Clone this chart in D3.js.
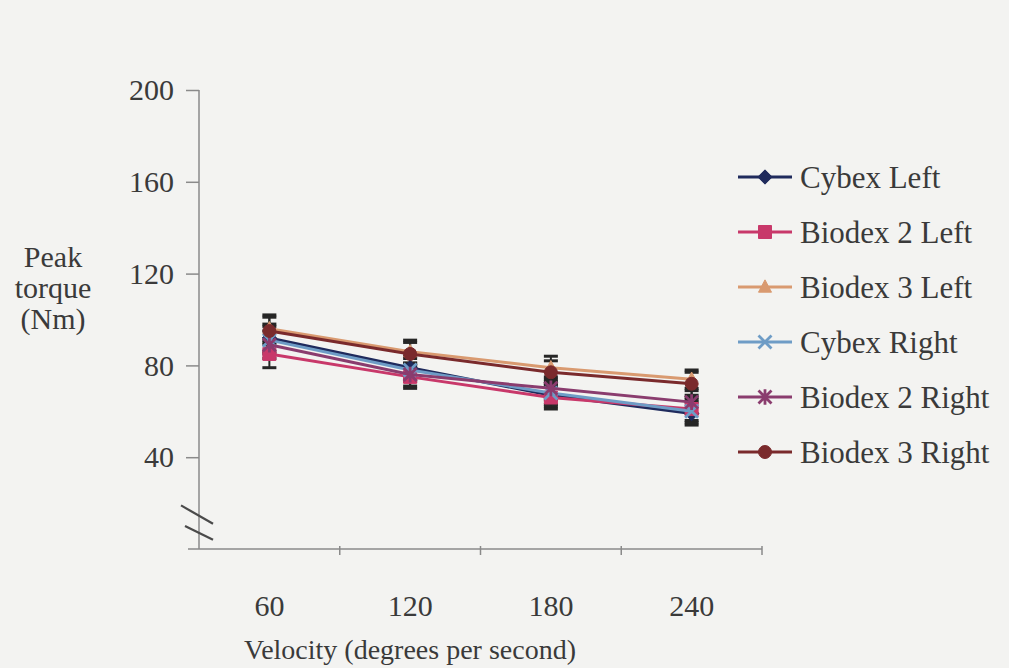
<!DOCTYPE html>
<html>
<head>
<meta charset="utf-8">
<script src="https://cdn.jsdelivr.net/npm/d3@7/dist/d3.min.js"></script>
<style>
  html, body { margin: 0; padding: 0; background: #f3f3f1; }
  svg { display: block; }
  text { font-family: "Liberation Serif", "Times New Roman", serif; fill: #3a3a3a; }
</style>
</head>
<body>
<svg id="chart" width="1009" height="668"></svg>
<script>
// Isokinetic peak torque by test velocity, per dynamometer and side
const velocities = ["60", "120", "180", "240"];
const yTicks = [40, 80, 120, 160, 200];

const seriesNames = ["Cybex Left", "Biodex 2 Left", "Biodex 3 Left",
                     "Cybex Right", "Biodex 2 Right", "Biodex 3 Right"];

const cybexLeft     = [92, 79, 67, 59];
const biodex2Left   = [85, 75, 66, 61];
const biodex3Left   = [96, 86, 79, 74];
const cybexRight    = [91, 78, 68, 60];
const biodex2Right  = [89, 76, 70, 64];
const biodex3Right  = [95, 85, 77, 72];

// standard deviations (error bars)
const cybexLeftSD    = [6, 5, 5, 5];
const biodex2LeftSD  = [6, 5, 5, 5];
const biodex3LeftSD  = [6, 5, 5, 4];
const cybexRightSD   = [6, 5, 5, 5];
const biodex2RightSD = [6, 5, 5, 5];
const biodex3RightSD = [6, 5, 5, 5];

const seriesValues = [cybexLeft, biodex2Left, biodex3Left, cybexRight, biodex2Right, biodex3Right];
const seriesSD = [cybexLeftSD, biodex2LeftSD, biodex3LeftSD, cybexRightSD, biodex2RightSD, biodex3RightSD];

const colors = ["#1f2a5c", "#c8386a", "#d99a70", "#6e9cc6", "#8a3c6e", "#7a2a2c"];
const shapes = ["diamond", "square", "triangle", "cross", "star", "circle"];

const svg = d3.select("#chart");

const axisX = 199, axisRight = 762, axisTop = 90, axisBottom = 549;

const x = d3.scaleBand().domain(velocities).range([axisX, axisRight]);
const y = d3.scaleLinear().domain([0, 200]).range([axisBottom, axisTop]);
const cx = d => x(d) + x.bandwidth() / 2;

const axisColor = "#8a8a8a";

// Y axis
const yAxis = svg.append("g").attr("transform", `translate(${axisX},0)`)
  .call(d3.axisLeft(y).tickValues(yTicks).tickSize(13).tickPadding(12));
yAxis.select(".domain").attr("d", `M0,${y(200)}V${y(0)}`).attr("stroke", axisColor).attr("stroke-width", 1.5);
yAxis.selectAll(".tick line").attr("stroke", axisColor).attr("stroke-width", 1.5);
yAxis.selectAll(".tick text").attr("font-size", 30).attr("fill", "#3a3a3a")
  .attr("font-family", "Liberation Serif, serif");

// X axis (ticks at band boundaries, labels at band centers)
const xAxis = svg.append("g").attr("transform", `translate(0,${axisBottom})`);
xAxis.append("line").attr("x1", axisX - 11).attr("x2", axisRight)
  .attr("stroke", axisColor).attr("stroke-width", 1.5);
xAxis.selectAll("line.tick").data(velocities).join("line").attr("class", "tick")
  .attr("x1", d => x(d) + x.bandwidth()).attr("x2", d => x(d) + x.bandwidth())
  .attr("y1", -3).attr("y2", 6).attr("stroke", axisColor).attr("stroke-width", 1.5);
xAxis.selectAll("text").data(velocities).join("text")
  .attr("x", d => cx(d)).attr("y", 67).attr("text-anchor", "middle")
  .attr("font-size", 30).text(d => d);

// Axis break mark
const brk = svg.append("g").attr("stroke", "#4a4a4a").attr("stroke-width", 2.2);
brk.append("line").attr("x1", axisX - 18).attr("y1", y(19)).attr("x2", axisX + 14).attr("y2", y(11));
brk.append("line").attr("x1", axisX - 14).attr("y1", y(10)).attr("x2", axisX + 14).attr("y2", y(4));

// Axis titles
const yTitle = svg.append("text").attr("text-anchor", "middle").attr("font-size", 30);
["Peak", "torque", "(Nm)"].forEach((t, i) =>
  yTitle.append("tspan").attr("x", 53).attr("y", 267 + i * 31).text(t));
svg.append("text").attr("x", 410).attr("y", 659).attr("text-anchor", "middle")
  .attr("font-size", 28).text("Velocity (degrees per second)");

// Marker path generator
function markerPath(shape, s) {
  const h = s / 2;
  switch (shape) {
    case "diamond": return `M0,${-h * 1.1}L${h * 1.1},0L0,${h * 1.1}L${-h * 1.1},0Z`;
    case "square": return `M${-h},${-h}H${h}V${h}H${-h}Z`;
    case "triangle": return `M0,${-h * 1.1}L${h},${h * 0.8}L${-h},${h * 0.8}Z`;
    case "cross": return `M${-h},${-h}L${h},${h}M${-h},${h}L${h},${-h}`;
    case "star": return `M${-h},${-h}L${h},${h}M${-h},${h}L${h},${-h}M0,${-h * 1.2}V${h * 1.2}`;
    case "circle": return d3.symbol(d3.symbolCircle, s * s * 0.78)();
  }
}
function drawMarker(g, shape, color, s) {
  const open = shape === "cross" || shape === "star";
  g.append("path").attr("d", markerPath(shape, s))
    .attr("fill", open ? "none" : color)
    .attr("stroke", color).attr("stroke-width", open ? 2.8 : 1);
}

const line = d3.line().x(d => cx(d.v)).y(d => y(d.val));
const plot = svg.append("g");

// Error bars
seriesValues.forEach((vals, si) => {
  const g = plot.append("g").attr("stroke", "#262626").attr("stroke-width", 2);
  vals.forEach((val, i) => {
    const v = velocities[i], sd = seriesSD[si][i];
    g.append("line").attr("x1", cx(v)).attr("x2", cx(v)).attr("y1", y(val + sd)).attr("y2", y(val - sd));
    g.append("line").attr("x1", cx(v) - 7).attr("x2", cx(v) + 7).attr("y1", y(val + sd)).attr("y2", y(val + sd)).attr("stroke-width", 3);
    g.append("line").attr("x1", cx(v) - 7).attr("x2", cx(v) + 7).attr("y1", y(val - sd)).attr("y2", y(val - sd)).attr("stroke-width", 3);
  });
});

// Lines and markers
seriesValues.forEach((vals, si) => {
  const pts = vals.map((val, i) => ({ v: velocities[i], val }));
  plot.append("path").datum(pts).attr("d", line).attr("fill", "none")
    .attr("stroke", colors[si]).attr("stroke-width", 3);
  pts.forEach(p => {
    const g = plot.append("g").attr("transform", `translate(${cx(p.v)},${y(p.val)})`);
    drawMarker(g, shapes[si], colors[si], 13);
  });
});

// Legend
const legend = svg.append("g");
seriesNames.forEach((name, i) => {
  const ly = 177 + i * 55;
  const g = legend.append("g").attr("transform", `translate(0,${ly})`);
  g.append("line").attr("x1", 738).attr("x2", 792).attr("stroke", colors[i]).attr("stroke-width", 3);
  const m = g.append("g").attr("transform", "translate(765,0)");
  drawMarker(m, shapes[i], colors[i], 13);
  g.append("text").attr("x", 800).attr("y", 11).attr("font-size", 31).text(name);
});
</script>
</body>
</html>
